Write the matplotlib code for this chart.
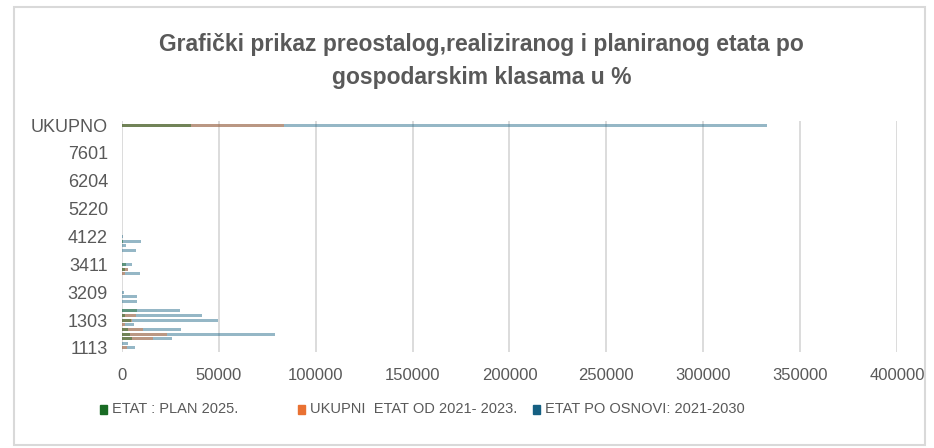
import numpy as np
import matplotlib.pyplot as plt
from matplotlib.patches import Rectangle

plt.rcParams['font.family'] = ['Liberation Sans', 'DejaVu Sans']

# 49 gospodarske klase (odozdo prema gore), oznaka se prikazuje svaka 6.
tick_labels = ['1113', '1303', '3209', '3411', '4122', '5220', '6204', '7601', 'UKUPNO']
n_cat = 49

# vrijednosti po indeksu kategorije (0 = 1113, 48 = UKUPNO)
osnova = {0: 6700, 1: 2900, 2: 25600, 3: 78900, 4: 30400, 5: 6200, 6: 49300,
          7: 41200, 8: 29900, 10: 7500, 11: 7800, 12: 1200, 16: 9300, 17: 2900,
          18: 5000, 21: 7000, 22: 1900, 23: 9800, 24: 700, 48: 333000}
ukupni = {0: 2400, 2: 16100, 3: 23000, 4: 11000, 5: 1500, 6: 5000, 7: 7000,
          16: 1500, 17: 2900, 48: 83500}
plan = {2: 5000, 3: 4100, 4: 3300, 6: 4500, 7: 1500, 8: 7500, 17: 1500,
        18: 1900, 23: 700, 48: 35400}

series = [
    ('ETAT PO OSNOVI: 2021-2030', osnova, '#156082'),
    ('UKUPNI  ETAT OD 2021- 2023.', ukupni, '#E97132'),
    ('ETAT : PLAN 2025.', plan, '#196B24'),
]

W, H = 934, 448
fig = plt.figure(figsize=(W / 100, H / 100), dpi=100)
ax = fig.add_axes([0.1306, 0.215, 0.8298, 0.5142])

y = np.arange(n_cat)
for name, vals, col in series:
    v = [vals.get(i, 0) for i in range(n_cat)]
    ax.barh(y, v, height=0.65, color=col, alpha=0.45, zorder=2, linewidth=0)

ax.set_xlim(0, 400000)
ax.set_ylim(-0.8, 48.8)
ax.set_xticks(np.arange(0, 400001, 50000))
ax.set_xticklabels([str(v) for v in range(0, 400001, 50000)])
ax.set_yticks(np.arange(0, n_cat, 6))
ax.set_yticklabels(tick_labels)
ax.tick_params(length=0, colors='#595959')
ax.tick_params(axis='y', labelsize=13, pad=10)
ax.tick_params(axis='x', labelsize=12, pad=12)
ax.grid(axis='x', color='#d9d9d9', linewidth=1.3, zorder=0)
for s in ax.spines.values():
    s.set_visible(False)

fig.text(0.5155, 0.864, 'Grafički prikaz preostalog,realiziranog i planiranog etata po\ngospodarskim klasama u %',
         ha='center', va='center', fontsize=16.5, fontweight='bold', color='#595959',
         linespacing=1.6)

# legenda (kvadratić + tekst)
leg_x = [100, 298, 533]
for (name, _, col), x0 in zip(series[::-1], leg_x):
    fig.patches.append(Rectangle((x0 / W, 1 - 414 / H), 7 / W, 9 / H,
                                 transform=fig.transFigure, color=col))
    fig.text((x0 + 12) / W, 1 - 409 / H, name, ha='left', va='center',
             fontsize=10.5, color='#595959')

fig.patches.append(Rectangle((14 / W, 3 / H), 911 / W, 438 / H, transform=fig.transFigure,
                             fill=False, edgecolor='#d9d9d9', linewidth=1.5))

fig.savefig('out.png', dpi=100)
